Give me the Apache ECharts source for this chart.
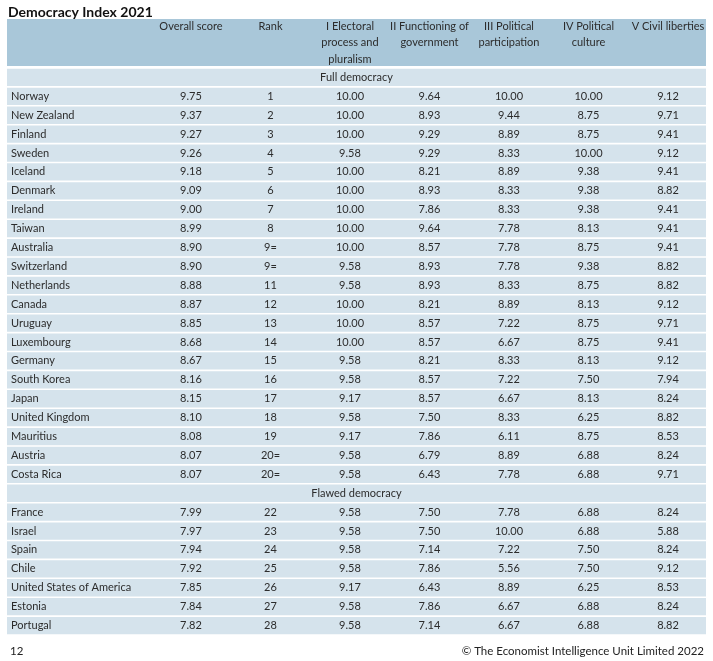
<!DOCTYPE html>
<html><head><meta charset="utf-8">
<script src="https://cdn.jsdelivr.net/npm/echarts@6/dist/echarts.min.js"></script>
<style>html,body{margin:0;padding:0;background:#fff}#c{width:713px;height:661px}</style>
</head><body><div id="c"></div>
<script>
const titleText = 'Democracy Index 2021';
const pageNumber = '12';
const copyright = '\u00A9 The Economist Intelligence Unit Limited 2022';
const headers = ['Overall score', 'Rank', 'I Electoral\nprocess and\npluralism', 'II Functioning of\ngovernment', 'III Political\nparticipation', 'IV Political\nculture', 'V Civil liberties'];
const sections = ['Full democracy', 'Flawed democracy'];
const sectionSizes = [21, 7];
const countries = ['Norway','New Zealand','Finland','Sweden','Iceland','Denmark','Ireland','Taiwan','Australia','Switzerland','Netherlands','Canada','Uruguay','Luxembourg','Germany','South Korea','Japan','United Kingdom','Mauritius','Austria','Costa Rica',
  'France','Israel','Spain','Chile','United States of America','Estonia','Portugal'];
const overall = [9.75,9.37,9.27,9.26,9.18,9.09,9.00,8.99,8.90,8.90,8.88,8.87,8.85,8.68,8.67,8.16,8.15,8.10,8.08,8.07,8.07,
  7.99,7.97,7.94,7.92,7.85,7.84,7.82];
const ranks = ['1','2','3','4','5','6','7','8','9=','9=','11','12','13','14','15','16','17','18','19','20=','20=',
  '22','23','24','25','26','27','28'];
const electoral = [10.00,10.00,10.00,9.58,10.00,10.00,10.00,10.00,10.00,9.58,9.58,10.00,10.00,10.00,9.58,9.58,9.17,9.58,9.17,9.58,9.58,
  9.58,9.58,9.58,9.58,9.17,9.58,9.58];
const functioning = [9.64,8.93,9.29,9.29,8.21,8.93,7.86,9.64,8.57,8.93,8.93,8.21,8.57,8.57,8.21,8.57,8.57,7.50,7.86,6.79,6.43,
  7.50,7.50,7.14,7.86,6.43,7.86,7.14];
const participation = [10.00,9.44,8.89,8.33,8.89,8.33,8.33,7.78,7.78,7.78,8.33,8.89,7.22,6.67,8.33,7.22,6.67,8.33,6.11,8.89,7.78,
  7.78,10.00,7.22,5.56,8.89,6.67,6.67];
const culture = [10.00,8.75,8.75,10.00,9.38,9.38,9.38,8.13,8.75,9.38,8.75,8.13,8.75,8.75,8.13,7.50,8.13,6.25,8.75,6.88,6.88,
  6.88,6.88,7.50,7.50,6.25,6.88,6.88];
const liberties = [9.12,9.71,9.41,9.12,9.41,8.82,9.41,9.41,9.41,8.82,8.82,9.12,9.71,9.41,9.12,7.94,8.24,8.82,8.53,8.24,9.71,
  8.24,5.88,8.24,9.12,8.53,8.24,8.82];

// build rows
const rowLabels = [];
const rowKinds = [];
const cells = [];
const cellTexts = [];
let ci = 0;
sections.forEach((s, si) => {
  rowLabels.push(s); rowKinds.push('section');
  for (let k = 0; k < sectionSizes[si]; k++) {
    const r = rowLabels.length;
    rowLabels.push(countries[ci]); rowKinds.push('country');
    const vals = [countries[ci], overall[ci].toFixed(2), ranks[ci], electoral[ci].toFixed(2), functioning[ci].toFixed(2),
      participation[ci].toFixed(2), culture[ci].toFixed(2), liberties[ci].toFixed(2)];
    vals.forEach((t, col) => { cells.push([col, r]); cellTexts.push(t); });
    ci++;
  }
});

const FONT = 'Lato';
const TXT = '#2c2c2c';
const chart = echarts.init(document.getElementById('c'), null, {renderer: 'canvas'});
chart.setOption({
  animation: false,
  backgroundColor: '#ffffff',
  title: [
    {text: titleText, left: 3, top: 0, textStyle: {fontFamily: FONT, fontSize: 14, fontWeight: 'bold', color: '#111111'}},
    {text: pageNumber, left: 5, top: 640, textStyle: {fontFamily: FONT, fontSize: 11.5, fontWeight: 'normal', color: '#222222'}},
    {text: copyright, right: 4, top: 640, textStyle: {fontFamily: FONT, fontSize: 11.5, fontWeight: 'normal', color: '#222222'}}
  ],
  grid: {left: 7, right: 7, top: 68, height: 567, containLabel: false},
  xAxis: {type: 'value', min: -1.314, max: 7.478, show: false},
  yAxis: {type: 'category', data: rowLabels, inverse: true, show: false},
  series: [
    {
      type: 'custom', name: 'rows', silent: true,
      data: rowLabels.map((_, i) => [0, i]),
      renderItem: function (params, api) {
        const cs = params.coordSys;
        const p = api.coord([0, api.value(1)]);
        const band = api.size([0, 1])[1];
        const children = [{
          type: 'rect',
          shape: {x: cs.x, y: p[1] - band / 2 + 0.8, width: cs.width, height: band - 1.6},
          style: {fill: '#d5e3ec'}
        }];
        if (rowKinds[params.dataIndex] === 'section') {
          children.push({
            type: 'text',
            style: {x: cs.x + cs.width / 2, y: p[1], text: rowLabels[params.dataIndex], align: 'center', verticalAlign: 'middle',
              fill: TXT, font: '11px ' + FONT}
          });
        }
        return {type: 'group', children: children};
      }
    },
    {
      type: 'custom', name: 'header', silent: true,
      data: headers.map((_, i) => [i + 1, 0]),
      renderItem: function (params, api) {
        const cs = params.coordSys;
        const p = api.coord([api.value(0), 0]);
        const children = [];
        if (params.dataIndex === 0) {
          children.push({type: 'rect', shape: {x: cs.x, y: cs.y - 49, width: cs.width, height: 47}, style: {fill: '#a9c7d9'}});
        }
        children.push({
          type: 'text', z2: 10,
          style: {x: p[0], y: cs.y - 50, text: headers[params.dataIndex], align: 'center', verticalAlign: 'top',
            lineHeight: 16.6, fill: TXT, font: '11px ' + FONT}
        });
        return {type: 'group', children: children};
      }
    },
    {
      type: 'custom', name: 'cells', silent: true, z: 5,
      data: cells,
      renderItem: function (params, api) {
        const cs = params.coordSys;
        const col = api.value(0);
        const p = api.coord([col, api.value(1)]);
        const isName = col === 0;
        return {
          type: 'text',
          style: {x: isName ? cs.x + 4 : p[0], y: p[1], text: cellTexts[params.dataIndex],
            align: isName ? 'left' : 'center', verticalAlign: 'middle', fill: TXT, font: '11px ' + FONT}
        };
      }
    }
  ]
});
</script></body></html>
